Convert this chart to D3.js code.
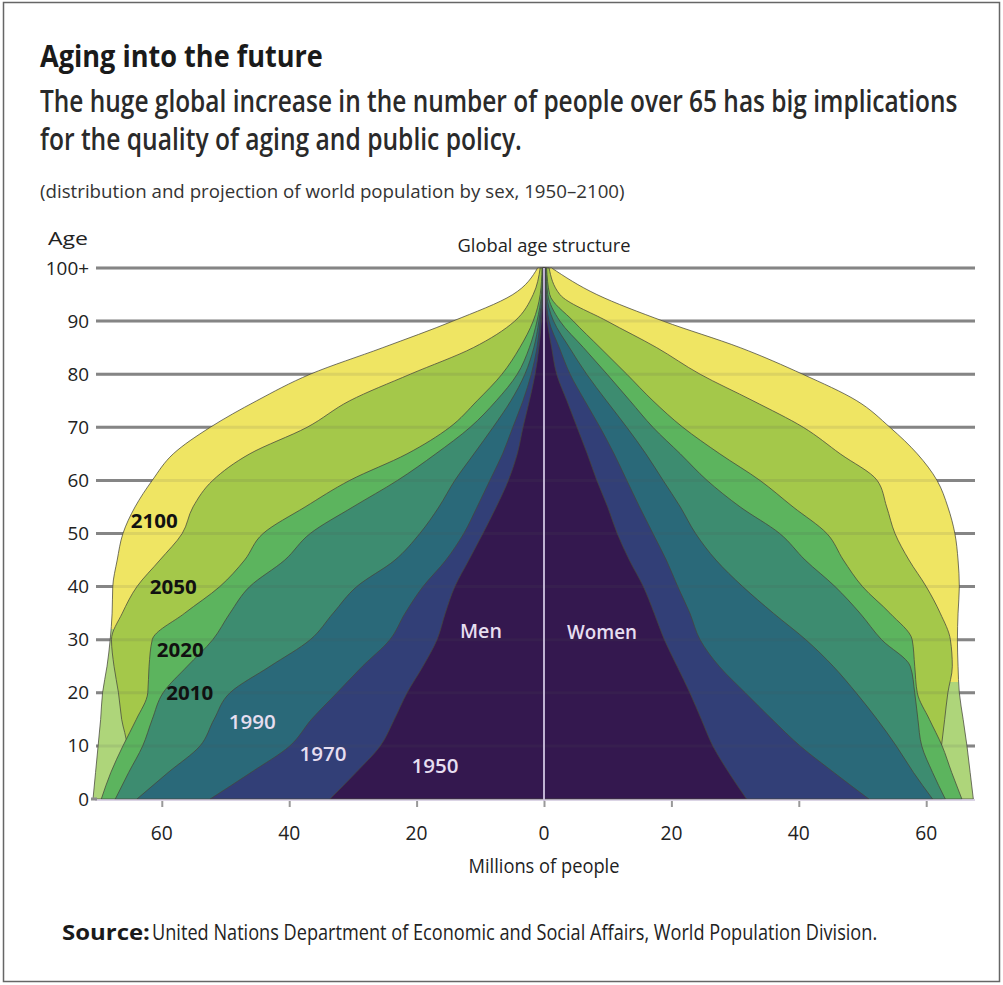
<!DOCTYPE html>
<html>
<head>
<meta charset="utf-8">
<script src="https://cdn.jsdelivr.net/npm/d3@7"></script>
<style>
  body { margin: 0; background: #fff; }
  text { font-family: "Open Sans", "Liberation Sans", sans-serif; }
</style>
</head>
<body>
<svg id="chart"></svg>
<script>
// ages every 5 years, 0 .. 100+
const AGES = [0, 5, 10, 15, 20, 25, 30, 35, 40, 45, 50, 55, 60, 65, 70, 75, 80, 85, 90, 95, 100];
const YEARS = ['2100', '2050', '2020', '2010', '1990', '1970', '1950'];

// millions of people
const men2100 = [70.8, 70.4, 70, 69.6, 69.3, 68.6, 68.1, 67.8, 67.7, 67, 66.1, 64.2, 61.5, 58.2, 52.4, 45.1, 36.7, 25.3, 14.3, 4.9, 1.0];
const men2050 = [67.5, 66.5, 65.5, 66.3, 66.8, 67.5, 67.9, 66.2, 63.9, 60.3, 56.8, 55.1, 52, 46.2, 37.2, 30.5, 21, 11.1, 4.6, 1.7, 0.6];
const men2020 = [69.5, 68, 66.1, 64, 62.2, 62, 61.5, 56.4, 50.9, 47, 44.1, 37.5, 30.5, 21.5, 14.8, 10.5, 6.6, 3.8, 1.7, 0.6, 0.3];
const men2010 = [67.3, 65.2, 63, 61.5, 59.8, 56, 52, 49.3, 46.2, 40.7, 36.7, 30, 23, 17, 11.6, 7.5, 4.2, 2.3, 1.1, 0.4, 0.2];
const men1990 = [63.9, 59, 54, 51.8, 49.3, 43, 36.7, 33.1, 29.4, 23.4, 19.5, 16.5, 14, 11, 8, 5.2, 3, 1.6, 0.8, 0.3, 0.15];
const men1970 = [52.4, 46, 39.9, 36.5, 32.5, 28.5, 24.2, 21.8, 19, 15.4, 12.6, 10.5, 8.5, 6.5, 4.9, 3.3, 2, 1.1, 0.6, 0.2, 0.1];
const men1950 = [33.6, 29.5, 25.7, 23.5, 21.5, 19, 16.8, 15.5, 14, 11.8, 9.6, 7.5, 5.6, 4.2, 3.3, 2.3, 1.4, 0.8, 0.4, 0.15, 0.05];

const women2100 = [67.4, 66.9, 66.4, 65.8, 65.2, 65, 64.9, 65, 65.2, 65, 64.5, 63.4, 61.7, 58.6, 54.3, 49.1, 40.6, 30.8, 18.7, 8.3, 1.2];
const women2050 = [62.5, 62, 62.4, 62.9, 63.4, 64.1, 63.8, 62.2, 60, 57.3, 55.1, 53.8, 52.3, 46.5, 40.7, 32.8, 24.5, 17.7, 9.9, 2.5, 0.8];
const women2020 = [65.6, 64, 62.5, 60.5, 58.6, 58.2, 57.8, 54.3, 50, 47, 44.4, 39.1, 33.9, 27.6, 21.8, 17.1, 13, 8.8, 4.6, 0.9, 0.4];
const women2010 = [63, 61, 59.3, 58.7, 58.2, 57.5, 53, 49.6, 45.7, 41, 37, 30.8, 25.6, 21.4, 17.1, 13.5, 9.9, 6.2, 2.5, 0.6, 0.3];
const women1990 = [61, 58, 55.3, 52.3, 49, 45.4, 41.1, 36, 31.2, 27, 23.8, 21.4, 18.7, 16, 13, 9.8, 6.7, 4, 1.5, 0.4, 0.2];
const women1970 = [51, 45.5, 40.2, 35.8, 31.6, 27.5, 24.5, 22.9, 21, 19.2, 17.1, 15, 13, 11, 8.8, 6.4, 4.1, 2.4, 0.8, 0.3, 0.2];
const women1950 = [31.8, 29, 26.5, 24.7, 22.9, 20.9, 18.9, 17.3, 15.6, 13.4, 11.5, 10, 8.3, 6.8, 5.2, 3.6, 2, 1.2, 0.5, 0.2, 0.1];

const AGE_TICKS = [0, 10, 20, 30, 40, 50, 60, 70, 80, 90, 100];
const AGE_TICK_LABELS = ['0', '10', '20', '30', '40', '50', '60', '70', '80', '90', '100+'];
const X_TICKS = [-60, -40, -20, 0, 20, 40, 60];

const MEN = [men2100, men2050, men2020, men2010, men1990, men1970, men1950];
const WOMEN = [women2100, women2050, women2020, women2010, women1990, women1970, women1950];
const COLORS = ['#efe563', '#a4c84a', '#5cb45e', '#3d8c70', '#2a6979', '#323f77', '#34184f'];

const W = 1003, H = 985;
const svg = d3.select('#chart').attr('width', W).attr('height', H);

// frame
svg.append('rect').attr('x', 3.5).attr('y', 2.5).attr('width', 996).attr('height', 979)
    .attr('fill', 'none').attr('stroke', '#666').attr('stroke-width', 1.5);

const x = d3.scaleLinear().domain([-75, 75]).range([544 - 75 * 6.37, 544 + 75 * 6.37]);
const y = d3.scaleLinear().domain([0, 100]).range([799, 268]);

// light green for the young part of 2100 (break differs on each side)
const defs = svg.append('defs');
function ageGradient(id, breakAge) {
    const g = defs.append('linearGradient').attr('id', id)
        .attr('gradientUnits', 'userSpaceOnUse')
        .attr('x1', 0).attr('x2', 0).attr('y1', y(0)).attr('y2', y(100));
    const t = breakAge / 100;
    g.append('stop').attr('offset', 0).attr('stop-color', '#aed57a');
    g.append('stop').attr('offset', t).attr('stop-color', '#aed57a');
    g.append('stop').attr('offset', t).attr('stop-color', COLORS[0]);
    g.append('stop').attr('offset', 1).attr('stop-color', COLORS[0]);
}
ageGradient('g2100men', 32);
ageGradient('g2100women', 22);

// gridlines behind
const grid = svg.append('g');
grid.selectAll('line').data(AGE_TICKS.filter(a => a > 0)).enter().append('line')
    .attr('x1', 96).attr('x2', 975)
    .attr('y1', d => y(d)).attr('y2', d => y(d))
    .attr('stroke', '#8c8c8c').attr('stroke-width', 3);

// pyramids
const areaMen = d3.area().curve(d3.curveMonotoneY)
    .y(d => y(d.age)).x0(x(0)).x1(d => x(-d.v));
const areaWomen = d3.area().curve(d3.curveMonotoneY)
    .y(d => y(d.age)).x0(x(0)).x1(d => x(d.v));

const layers = YEARS.map((yr, i) => ({
    year: yr,
    color: COLORS[i],
    men: AGES.map((a, j) => ({age: a, v: MEN[i][j]})),
    women: AGES.map((a, j) => ({age: a, v: WOMEN[i][j]}))
}));

const shapes = svg.append('g');
layers.forEach((l, i) => {
    shapes.append('path').attr('d', areaMen(l.men))
        .attr('fill', i === 0 ? 'url(#g2100men)' : l.color)
        .attr('stroke', 'rgba(70,70,60,0.75)').attr('stroke-width', 1);
    shapes.append('path').attr('d', areaWomen(l.women))
        .attr('fill', i === 0 ? 'url(#g2100women)' : l.color)
        .attr('stroke', 'rgba(70,70,60,0.75)').attr('stroke-width', 1);
});

// faint gridlines showing through
svg.append('g').selectAll('line').data(AGE_TICKS.filter(a => a > 0)).enter().append('line')
    .attr('x1', 96).attr('x2', 975)
    .attr('y1', d => y(d)).attr('y2', d => y(d))
    .attr('stroke', '#555').attr('stroke-opacity', 0.12).attr('stroke-width', 3);

// centre line and baseline
svg.append('line').attr('x1', x(0)).attr('x2', x(0)).attr('y1', y(100)).attr('y2', y(0) + 2)
    .attr('stroke', '#bfb2d2').attr('stroke-width', 2);
svg.append('line').attr('x1', 95).attr('x2', 975).attr('y1', y(0) + 1).attr('y2', y(0) + 1)
    .attr('stroke', '#cfc6dc').attr('stroke-width', 1.5);

// condensed-looking text: draw natural, then squeeze horizontally to the measured width
function label(str, px, py, opts) {
    const g = svg.append('g').attr('transform', `translate(${px},${py})`);
    const t = g.append('text').text(str)
        .attr('font-size', opts.size).attr('fill', opts.fill || '#222')
        .attr('font-weight', opts.weight || 400)
        .attr('text-anchor', opts.anchor || 'start');
    if (opts.len) {
        const natural = t.node().getComputedTextLength();
        t.attr('transform', `scale(${opts.len / natural},1)`);
    }
    return t;
}

// y axis labels
AGE_TICKS.forEach((a, i) => {
    label(AGE_TICK_LABELS[i], 89, y(a) + 6.5, {size: 19, anchor: 'end', len: AGE_TICK_LABELS[i].length * 10.8});
});
svg.append('line').attr('x1', 91).attr('x2', 97).attr('y1', y(0)).attr('y2', y(0))
    .attr('stroke', '#8c8c8c').attr('stroke-width', 3);

// x axis ticks (labels drawn squeezed below)
const xAxis = svg.append('g').attr('transform', `translate(0, ${y(0) + 2})`)
    .call(d3.axisBottom(x).tickValues(X_TICKS).tickSize(6).tickFormat(''));
xAxis.select('.domain').remove();
xAxis.selectAll('.tick line').attr('stroke', '#999').attr('stroke-width', 2);
X_TICKS.forEach(v => {
    const s = String(Math.abs(v));
    label(s, x(v), 840, {size: 20, anchor: 'middle', len: s.length * 11});
});

label('Aging into the future', 40, 67, {size: 30, weight: 700, len: 283, fill: '#1a1a1a'});
label('The huge global increase in the number of people over 65 has big implications', 40, 112,
    {size: 31, weight: 600, len: 918, fill: '#2a2a2a'});
label('for the quality of aging and public policy.', 40, 150, {size: 31, weight: 600, len: 482, fill: '#2a2a2a'});
label('(distribution and projection of world population by sex, 1950\u20132100)', 40, 198,
    {size: 19, len: 585, fill: '#333'});
label('Age', 48, 245, {size: 19, len: 40});
label('Global age structure', 544, 252, {size: 19, len: 173, anchor: 'middle'});
label('Millions of people', 544, 873, {size: 20, len: 151, anchor: 'middle'});
label('Source:', 62, 940, {size: 21, weight: 700, len: 88, fill: '#1a1a1a'});
label('United Nations Department of Economic and Social Affairs, World Population Division.', 152, 940,
    {size: 21, len: 726, fill: '#222'});

// year and sex labels, placed in data units (millions, age)
const YEAR_LABEL_AT = [[-61.2, 52.4], [-58.2, 39.9], [-57.1, 28], [-55.6, 20], [-45.8, 14.5], [-34.7, 8.5], [-17.1, 6.2]];
const YEAR_LABEL_FILL = ['#111', '#111', '#111', '#111', '#e6def0', '#e6def0', '#e6def0'];
YEARS.forEach((yr, i) => {
    label(yr, x(YEAR_LABEL_AT[i][0]), y(YEAR_LABEL_AT[i][1]) + 7,
        {size: 20, weight: i < 4 ? 700 : 600, len: 47, anchor: 'middle', fill: YEAR_LABEL_FILL[i]});
});
label('Men', x(-9.9), y(31.6) + 7, {size: 19, weight: 600, len: 42, anchor: 'middle', fill: '#e6def0'});
label('Women', x(9.1), y(31.4) + 7, {size: 19, weight: 600, len: 70, anchor: 'middle', fill: '#e6def0'});
</script>
</body>
</html>
